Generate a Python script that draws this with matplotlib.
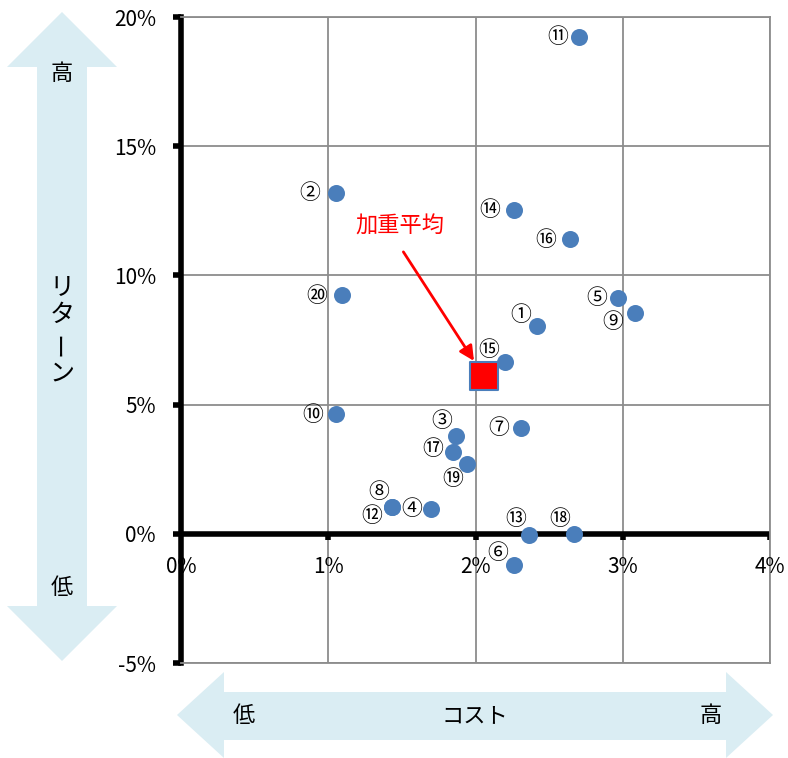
import matplotlib.pyplot as plt
from matplotlib.patches import Polygon

plt.rcParams['font.family'] = ['Noto Sans CJK JP', 'DejaVu Sans']

# cost (%) and return (%) of each fund
labels = ["①", "②", "③", "④", "⑤", "⑥", "⑦", "⑧", "⑨", "⑩",
          "⑪", "⑫", "⑬", "⑭", "⑮", "⑯", "⑰", "⑱", "⑲", "⑳"]
cost = [2.42, 1.05, 1.87, 1.70, 2.97, 2.26, 2.31, 1.43, 3.08, 1.05,
        2.70, 1.43, 2.36, 2.26, 2.20, 2.64, 1.85, 2.67, 1.94, 1.09]
ret = [8.05, 13.2, 3.8, 0.97, 9.13, -1.2, 4.1, 1.05, 8.55, 4.62,
       19.23, 1.03, -0.04, 12.54, 6.65, 11.42, 3.15, 0.0, 2.71, 9.25]

avg_cost = 2.06
avg_ret = 6.1

x_ticks = [0, 1, 2, 3, 4]
y_ticks = [-5, 0, 5, 10, 15, 20]

# label offsets in pixels (dx, dy), upward positive
offsets = [(-17, 11), (-26, 0), (-15, 15), (-20, 0), (-22, 0), (-16, 12), (-22, 0),
           (-13, 15), (-22, -9), (-23, -1), (-21, 0), (-20, -9), (-13, 16), (-24, 0),
           (-16, 12), (-24, -1), (-21, 3), (-14, 15), (-14, -15), (-25, -1)]

W, H = 788, 758
fig = plt.figure(figsize=(W / 100, H / 100), dpi=100)
ax = fig.add_axes([181 / W, 1 - 663 / H, (770 - 181) / W, (663 - 17) / H])

# background arrows (pixel coords -> figure fraction)
arrow_col = "#daedf3"


def px_poly(pts):
    return Polygon([(x / W, 1 - y / H) for x, y in pts], closed=True,
                   transform=fig.transFigure, facecolor=arrow_col,
                   edgecolor="none", zorder=0)


def px_text(x, y, s, **kw):
    fig.text(x / W, 1 - y / H, s, ha="center", va="center", **kw)


fig.patches.append(px_poly([(62, 12), (117, 67), (87, 67), (87, 606), (117, 606),
                            (62, 661), (7, 606), (37, 606), (37, 67), (7, 67)]))
fig.patches.append(px_poly([(177, 715), (224, 672), (224, 692), (726, 692), (726, 672),
                            (773, 715), (726, 758), (726, 740), (224, 740), (224, 758)]))

px_text(62, 73, "高", fontsize=16)
px_text(62, 587, "低", fontsize=16)
# vertical 'リターン'
px_text(62, 288, "リ", fontsize=18)
px_text(62, 315, "タ", fontsize=18)
px_text(62, 344, "ー", fontsize=18, rotation=90)
px_text(62, 374, "ン", fontsize=18)
px_text(244, 716, "低", fontsize=16)
px_text(475, 716, "コスト", fontsize=16)
px_text(711, 716, "高", fontsize=16)

ax.set_xlim(0, 4)
ax.set_ylim(-5, 20)
ax.set_xticks(x_ticks)
ax.set_yticks(y_ticks)
ax.set_yticklabels([f"{v}%" for v in y_ticks], fontsize=15)
ax.set_xticklabels([])
ax.grid(True, color="#8c8c8c", linewidth=1.3, zorder=1)
ax.set_axisbelow(True)
ax.patch.set_alpha(0)

for s in ["top", "right", "bottom"]:
    ax.spines[s].set_color("#8c8c8c")
    ax.spines[s].set_linewidth(1.3)
ax.spines["left"].set_linewidth(4)
ax.spines["left"].set_color("black")
ax.tick_params(axis="y", length=6, width=4, direction="out", pad=12)
ax.tick_params(axis="x", length=0)

ax.axhline(0, color="black", linewidth=4, zorder=2)
for xv in x_ticks[1:]:
    ax.plot([xv, xv], [0, -0.25], color="black", linewidth=4, zorder=2,
            solid_capstyle="butt")
for xv in x_ticks:
    ax.text(xv, -1.3, f"{xv}%", ha="center", va="center", fontsize=15)

ax.scatter(cost, ret, s=150, color="#4a7ebb", zorder=4, linewidths=0)
for lab, x, y, (dx, dy) in zip(labels, cost, ret, offsets):
    ax.annotate(lab, (x, y), xytext=(dx, dy), textcoords="offset pixels",
                ha="center", va="center", fontsize=15, zorder=5)

ax.scatter([avg_cost], [avg_ret], s=400, marker="s", color="red",
           edgecolors="#4a7ebb", linewidths=1.5, zorder=4)
ax.annotate("", xy=(avg_cost - 0.06, avg_ret + 0.5), xytext=(1.5, 11.0),
            arrowprops=dict(arrowstyle="-|>", color="red", lw=2,
                            mutation_scale=22), zorder=5)
ax.text(1.49, 11.9, "加重平均", ha="center", va="center", fontsize=16,
        color="red", zorder=5)

fig.savefig("out.png", dpi=100)
